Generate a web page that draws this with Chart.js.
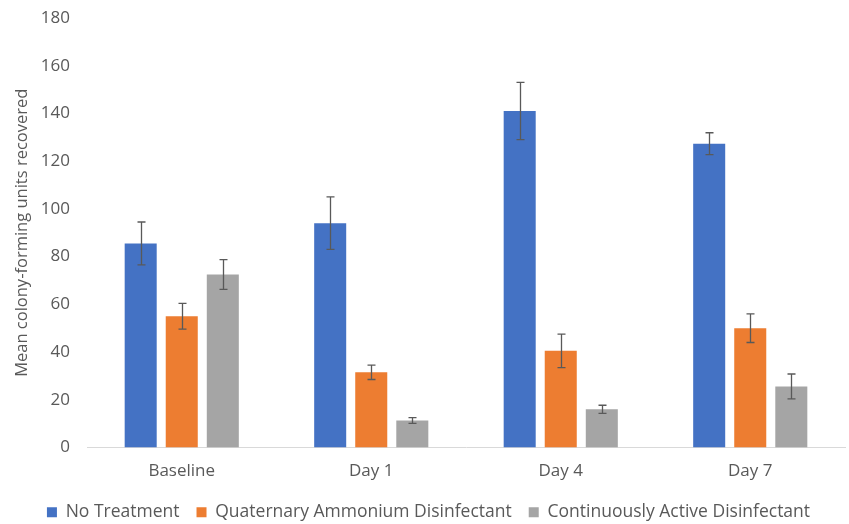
<!DOCTYPE html>
<html>
<head>
<meta charset="utf-8">
<script src="https://cdn.jsdelivr.net/npm/chart.js@4/dist/chart.umd.min.js"></script>
<style>
  html, body { margin: 0; padding: 0; background: #ffffff; }
  #wrap { width: 849px; height: 524px; overflow: hidden; }
</style>
</head>
<body>
<div id="wrap"><canvas id="cfuChart" width="849" height="524"></canvas></div>
<script>
const categories = ['Baseline', 'Day 1', 'Day 4', 'Day 7'];
const seriesNames = ['No Treatment', 'Quaternary Ammonium Disinfectant', 'Continuously Active Disinfectant'];
const noTreatment = [85.5, 94, 141, 127.3];
const quatAmmonium = [55, 31.5, 40.5, 50];
const continuouslyActive = [72.5, 11.3, 16, 25.6];
const noTreatmentErr = [9, 11, 12, 4.6];
const quatAmmoniumErr = [5.4, 3, 7, 6];
const continuouslyActiveErr = [6.2, 1.2, 1.7, 5.2];

const seriesColors = ['#4472C4', '#ED7D31', '#A5A5A5'];

// draws +/- error bars on top of each bar
const errorBars = {
    id: 'errorBars',
    afterDatasetsDraw(chart) {
        const ctx = chart.ctx;
        const yScale = chart.scales.y;
        ctx.save();
        ctx.strokeStyle = '#595959';
        ctx.lineWidth = 1.3;
        chart.data.datasets.forEach((ds, i) => {
            const meta = chart.getDatasetMeta(i);
            meta.data.forEach((bar, j) => {
                const v = ds.data[j];
                const e = ds.errors[j];
                const top = yScale.getPixelForValue(v + e);
                const bottom = yScale.getPixelForValue(v - e);
                const x = Math.round(bar.x) + 0.5;
                ctx.beginPath();
                ctx.moveTo(x, top);
                ctx.lineTo(x, bottom);
                ctx.moveTo(x - 4, top);
                ctx.lineTo(x + 4, top);
                ctx.moveTo(x - 4, bottom);
                ctx.lineTo(x + 4, bottom);
                ctx.stroke();
            });
        });
        ctx.restore();
    }
};

function makeDataset(label, values, errors, color) {
    return {
        label: label,
        data: values,
        errors: errors,
        backgroundColor: color,
        borderWidth: 0,
        categoryPercentage: 0.65,
        barPercentage: 0.78
    };
}

const ctx = document.getElementById('cfuChart').getContext('2d');
new Chart(ctx, {
    type: 'bar',
    data: {
        labels: categories,
        datasets: [
            makeDataset(seriesNames[0], noTreatment, noTreatmentErr, seriesColors[0]),
            makeDataset(seriesNames[1], quatAmmonium, quatAmmoniumErr, seriesColors[1]),
            makeDataset(seriesNames[2], continuouslyActive, continuouslyActiveErr, seriesColors[2])
        ]
    },
    options: {
        responsive: false,
        devicePixelRatio: 1,
        animation: false,
        layout: { padding: { left: 12, right: 4, top: 18, bottom: -7 } },
        font: { family: 'Open Sans' },
        scales: {
            x: {
                grid: { display: false, drawTicks: false },
                border: { display: true, color: '#d9d9d9', width: 1 },
                ticks: { color: '#595959', font: { family: 'Open Sans', size: 17 }, padding: 13 },
                // padding is counted twice by chart.js, fix the height here
                afterFit: (scale) => { scale.height = 39; }
            },
            y: {
                min: 0,
                max: 180,
                grid: { display: false, drawTicks: false },
                border: { display: false },
                ticks: { stepSize: 20, color: '#595959', font: { family: 'Open Sans', size: 17 }, padding: 17 },
                title: {
                    display: true,
                    text: 'Mean colony-forming units recovered',
                    color: '#595959',
                    font: { family: 'Open Sans', size: 16.5 },
                    padding: 0
                },
                afterFit: (scale) => {
                    scale.width = 75;
                    scale.paddingTop = 0;
                    scale.paddingBottom = 0;
                }
            }
        },
        plugins: {
            legend: {
                position: 'bottom',
                labels: {
                    color: '#595959',
                    font: { family: 'Open Sans', size: 17.5 },
                    boxWidth: 10,
                    boxHeight: 10,
                    padding: 17
                }
            },
            tooltip: { enabled: false }
        }
    },
    plugins: [errorBars]
});
</script>
</body>
</html>
